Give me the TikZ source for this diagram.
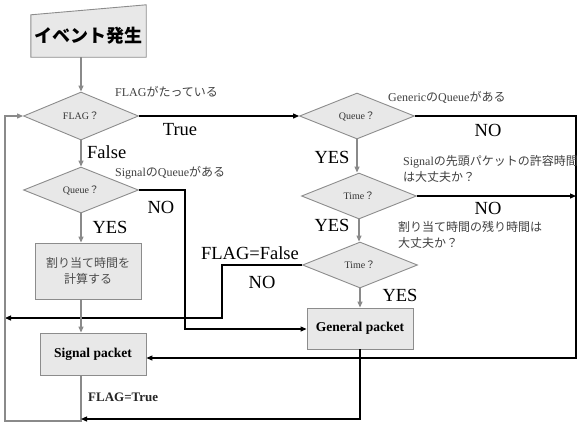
\documentclass[tikz,border=0pt]{standalone}
\usepackage{fontspec}
\setmainfont{Liberation Serif}
\newfontfamily\jpfont{Noto Sans CJK JP}
\usetikzlibrary{shapes.geometric,arrows.meta,backgrounds}
\newcommand{\jpt}[1]{{\jpfont #1}}
\definecolor{boxfill}{HTML}{E8E8E8}
\definecolor{boxline}{HTML}{8C8C8C}
\definecolor{glinec}{HTML}{8A8A8A}
\tikzset{
 dia/.style={diamond, draw=boxline, fill=boxfill, line width=0.9pt, inner sep=0pt,
   minimum width=115pt, minimum height=46pt, font=\fontsize{10}{12}\selectfont, text=black!80},
 pbox/.style={rectangle, draw=boxline, fill=boxfill, line width=0.9pt, inner sep=0pt,
   font=\bfseries\fontsize{13.5}{15}\selectfont},
 blk/.style={draw=black, line width=1.2pt},
 gry/.style={draw=glinec, line width=1.2pt},
 arr/.style={-{Triangle[length=6pt,width=5pt]}},
 big/.style={font=\fontsize{18.5}{20}\selectfont, inner sep=0pt},
 ftlab/.style={font=\bfseries\fontsize{13}{15}\selectfont, inner sep=0pt, text=black!85},
 small/.style={font=\fontsize{12}{16.5}\selectfont, inner sep=0pt, text=black!75, align=left},
}
\begin{document}
\begin{tikzpicture}[x=1pt,y=-1pt]
\useasboundingbox (0,0) rectangle (588,424);
% start
\node[minimum width=115pt, minimum height=42pt, inner sep=0pt,
  font=\jpfont\bfseries\fontsize{18}{20}\selectfont] (start) at (88.5,36) {イベント発生};
\begin{scope}[on background layer]
\draw[draw=boxline, fill=boxfill, line width=0.9pt] (start.south west) -- (start.south east)
  -- ([yshift=10pt]start.north east) -- (start.north west) -- cycle;
\end{scope}
% nodes
\node[dia, minimum height=48pt] (flag) at (81,116) {FLAG\jpt{？}};
\node[dia] (sq) at (81,190) {Queue\jpt{？}};
\node[pbox, minimum width=106pt, minimum height=56pt, font=\jpfont\fontsize{12}{16}\selectfont,
  text=black!70, align=center] (calc) at (88,271) {割り当て時間を\\計算する};
\node[pbox, minimum width=106pt, minimum height=42pt] (sp) at (93,354) {Signal packet};
\node[dia] (gq) at (357,116) {Queue\jpt{？}};
\node[dia] (t1) at (359,196) {Time\jpt{？}};
\node[dia] (t2) at (360,265) {Time\jpt{？}};
\node[pbox, minimum width=106pt, minimum height=41pt] (gp) at (360,328.5) {General packet};
% bend coordinates
\coordinate (rx) at (576,358);
\coordinate (nb) at (222,318);
\coordinate (qb) at (185,329);
\coordinate (lb) at (81,421);
\coordinate (lx) at (5,421);
\coordinate (bb) at (81,419);
% connectors
\draw[gry,arr] (start.south -| flag.north) -- (flag.north);
\draw[blk,arr] (flag.east) -- (gq.west);
\draw[blk,arr] (gq.east) -| (rx) -- (rx -| sp.east);
\draw[gry,arr] (gq.south) -- (gq.south |- t1.north);
\draw[blk,arr] (t1.east) -- (t1.east -| rx);
\draw[gry,arr] (t1.south) -- (t1.south |- t2.north);
\draw[blk,arr] (t2.west) -| (nb) -- (nb -| lx);
\draw[gry,arr] (t2.south) -- (t2.south |- gp.north);
\draw[gry,arr] (flag.south) -- (sq.north);
\draw[blk,arr] (sq.east) -| (qb) -- (qb -| gp.west);
\draw[gry,arr] (sq.south) -- (sq.south |- calc.north);
\draw[gry,arr] (calc.south -| lb) -- (lb |- sp.north);
\draw[gry,arr] (lb |- sp.south) -- (lb) -- (lx) -- (lx |- flag.west) -- (flag.west);
\draw[blk,arr] (gp.south) |- (bb);
% big labels
\node[big] (ltrue) at (180,130) {True};
\node[big,anchor=west] (lfalse) at (87,152) {False};
\node[big] (lno1) at (488,130) {NO};
\node[big] (lyes1) at (332,157) {YES};
\node[big] (lno2) at (488,208) {NO};
\node[big] (lyes2) at (332,225) {YES};
\node[big] (lff) at (250,253) {FLAG=False};
\node[big] (lno3) at (262,282) {NO};
\node[big] (lyes3) at (400,295) {YES};
\node[big] (lno4) at (161,207) {NO};
\node[big] (lyes4) at (110,227) {YES};
\node[ftlab,anchor=west] (lft) at (88,397) {FLAG=True};
% small labels
\node[small, anchor=west] (lflag) at (115,92) {FLAG\jpt{がたっている}};
\node[small, anchor=west] (lsq) at (115,173) {Signal\jpt{の}Queue\jpt{がある}};
\node[small, anchor=west] (lgq) at (388,97) {Generic\jpt{の}Queue\jpt{がある}};
\node[small, anchor=north west] (lt1) at (403,155) {Signal\jpt{の先頭パケットの許容時間}\\\jpt{は大丈夫か？}};
\node[small, anchor=north west] (lt2) at (398,221) {\jpt{割り当て時間の残り時間は}\\\jpt{大丈夫か？}};
\end{tikzpicture}
\end{document}
